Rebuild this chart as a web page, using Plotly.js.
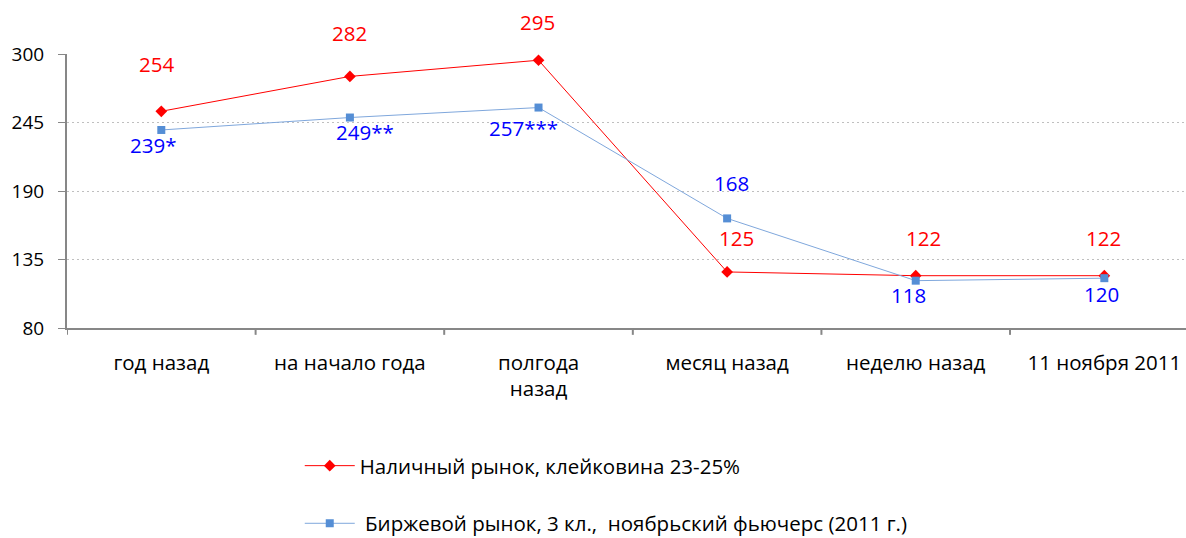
<!DOCTYPE html>
<html>
<head>
<meta charset="utf-8">
<script src="https://cdn.plot.ly/plotly-3.0.1.min.js"></script>
<style>html,body{margin:0;padding:0;background:#fff;}#chart{width:1186px;height:538px;}</style>
</head>
<body>
<div id="chart"></div>
<script>
// ---- data ----
var categories = ['год назад', 'на начало года', 'полгода<br>назад', 'месяц назад', 'неделю назад', '11 ноября 2011'];
var cashName = 'Наличный рынок, клейковина 23-25%';
var cashValues = [254, 282, 295, 125, 122, 122];
var cashLabels = ['254', '282', '295', '125', '122', '122'];
var futName = '&nbsp;Биржевой рынок, 3 кл.,&nbsp; ноябрьский фьючерс (2011 г.)';
var futValues = [239, 249, 257, 168, 118, 120];
var futLabels = ['239*', '249**', '257***', '168', '118', '120'];
var yTicks = [80, 135, 190, 245, 300];

// ---- label placement (style) ----
var cashShiftY = [47.5, 43.5, 38.5, 33.5, 37.5, 37.5];
var cashShiftX = [-5, 0, -1, 9, 8, -1];
var futShiftY = [-15.5, -14.5, -20.5, 35.5, -14.5, -15.5];
var futShiftX = [-8, 15, -15, 4, -7, -3];

var FONT = '"Open Sans", "Noto Sans", "DejaVu Sans", sans-serif';
var xIdx = categories.map(function (c, i) { return i; });

var traces = [
  {
    x: xIdx, y: cashValues, name: cashName, type: 'scatter', mode: 'lines+markers',
    line: { color: '#FF0000', width: 1 },
    marker: { symbol: 'diamond', size: 9, color: '#FF0000' },
    legendgroup: 'a', hoverinfo: 'skip'
  },
  {
    x: xIdx, y: futValues, name: futName, type: 'scatter', mode: 'lines+markers',
    line: { color: '#7FA7DC', width: 1 },
    marker: { symbol: 'square', size: 8, color: '#558ED5' },
    legendgroup: 'b', hoverinfo: 'skip'
  }
];

var annotations = [];
cashValues.forEach(function (v, i) {
  annotations.push({ x: i, y: v, xref: 'x', yref: 'y', text: cashLabels[i], showarrow: false,
    xshift: cashShiftX[i], yshift: cashShiftY[i], font: { family: FONT, size: 20.5, color: '#FF0000' } });
});
futValues.forEach(function (v, i) {
  annotations.push({ x: i, y: v, xref: 'x', yref: 'y', text: futLabels[i], showarrow: false,
    xshift: futShiftX[i], yshift: futShiftY[i], font: { family: FONT, size: 20.5, color: '#0000FF' } });
});

var layout = {
  width: 1186, height: 538,
  margin: { l: 67, r: 0, t: 54, b: 210, autoexpand: false },
  paper_bgcolor: '#ffffff', plot_bgcolor: '#ffffff',
  font: { family: FONT, size: 16, color: '#000000' },
  showlegend: true,
  legend: {
    x: 0.208, y: -0.43, xanchor: 'left', yanchor: 'top',
    traceorder: 'grouped', tracegroupgap: 28, itemwidth: 50,
    font: { family: FONT, size: 20.5, color: '#000' },
    bgcolor: 'rgba(0,0,0,0)'
  },
  xaxis: {
    type: 'linear', range: [-0.5, 5.433],
    tickmode: 'array', tickvals: xIdx, ticktext: categories,
    showgrid: false, zeroline: false,
    showline: true, linecolor: '#878787', linewidth: 2,
    ticks: '', tickfont: { family: FONT, size: 20.5, color: '#000' },
    ticklabelstandoff: 15,
    fixedrange: true
  },
  yaxis: {
    range: [80, 300], tickmode: 'array', tickvals: yTicks,
    showgrid: true, gridcolor: '#BFBFBF', griddash: '2px,3px', gridwidth: 1,
    zeroline: false, showline: true, linecolor: '#878787', linewidth: 2,
    ticks: 'outside', ticklen: 7, tickcolor: '#878787', tickwidth: 1,
    tickfont: { family: FONT, size: 19, color: '#000' },
    ticklabelstandoff: 10,
    fixedrange: true
  },
  shapes: [],
  annotations: annotations
};

// category boundary tick marks on x axis
for (var k = 0; k <= categories.length; k++) {
  layout.shapes.push({ type: 'line', xref: 'x', yref: 'paper', x0: k - 0.5, x1: k - 0.5, y0: 0, y1: -0.025,
    line: { color: '#878787', width: 2 } });
}

Plotly.newPlot('chart', traces, layout, { staticPlot: true, displayModeBar: false });
</script>
</body>
</html>
